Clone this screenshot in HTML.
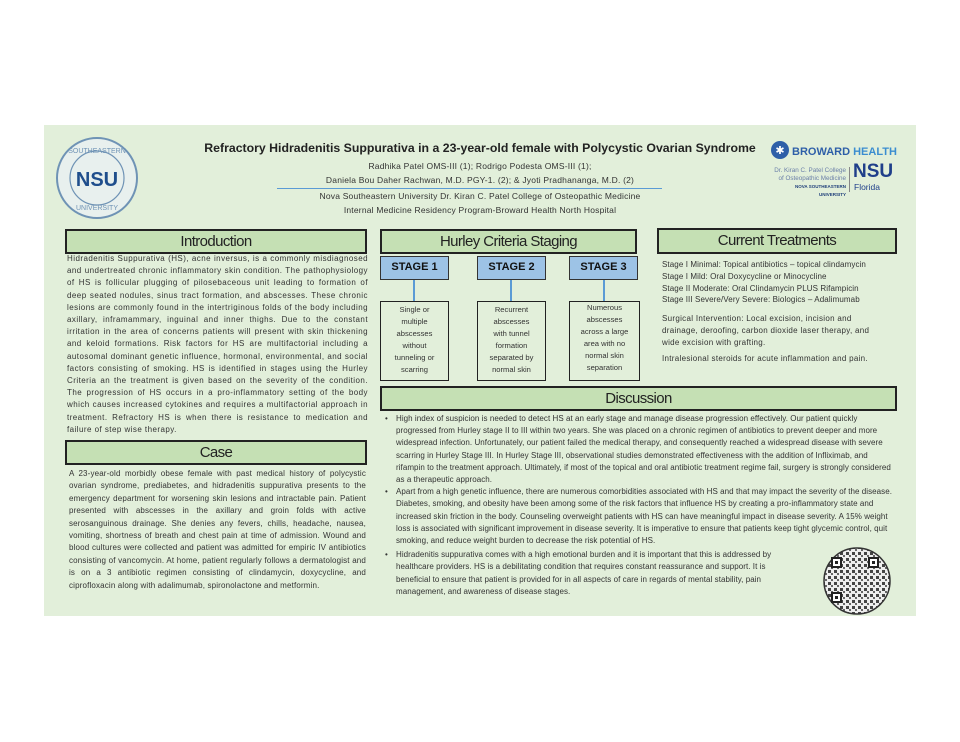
<!DOCTYPE html>
<html><head><meta charset="utf-8"><style>
*{margin:0;padding:0;box-sizing:border-box}
body{width:960px;height:742px;background:#fff;font-family:"Liberation Sans",sans-serif;position:relative;overflow:hidden;color:#333}
.poster{position:absolute;left:44px;top:125px;width:872px;height:491px;background:#e2efda}
.a{position:absolute}
.hdr{position:absolute;background:#c5e0b4;border:2px solid #222;text-align:center;font-size:15px;color:#222;line-height:21px;letter-spacing:-0.6px}
.txt{position:absolute;font-size:8px;letter-spacing:0.3px;line-height:12.1px;color:#333;text-align:justify}
.stage{position:absolute;background:#9dc3e6;border:1.5px solid #333;font-weight:bold;font-size:11px;text-align:center;line-height:20px;color:#111}
.desc{position:absolute;border:1.5px solid #222;font-size:7.6px;line-height:12px;text-align:center;padding-top:2px;color:#333}
.vl{position:absolute;width:2px;background:#5b9bd5}
ul{list-style:none}
li{position:relative;padding-left:11px}
li:before{content:"•";position:absolute;left:0}
</style></head><body>
<div class="poster"></div>
<svg class="a" style="left:55px;top:136px" width="84" height="84">
<circle cx="42" cy="42" r="40" fill="#e8f0ee" stroke="#6f93b5" stroke-width="2"/>
<circle cx="42" cy="42" r="27" fill="none" stroke="#6f93b5" stroke-width="1.2"/>
<text x="42" y="50" text-anchor="middle" font-family="Liberation Sans" font-weight="bold" font-size="20" fill="#1f4e8c">NSU</text>
<text x="42" y="17" text-anchor="middle" font-size="7" fill="#6f93b5">SOUTHEASTERN</text>
<text x="42" y="74" text-anchor="middle" font-size="7" fill="#6f93b5">UNIVERSITY</text>
</svg>
<div class="a" style="left:180px;top:141px;width:600px;text-align:center;font-weight:bold;font-size:12.3px;color:#222">Refractory Hidradenitis Suppurativa in a 23-year-old female with Polycystic Ovarian Syndrome</div>
<div class="a" style="left:220px;top:159px;width:520px;text-align:center;font-size:8.5px;letter-spacing:0.2px;line-height:14px;color:#333">Radhika Patel OMS-III (1); Rodrigo Podesta OMS-III (1);<br>Daniela Bou Daher Rachwan, M.D. PGY-1. (2); &amp; Jyoti Pradhananga, M.D. (2)</div>
<div class="a" style="left:277px;top:188px;width:385px;height:1px;background:#5b9bd5"></div>
<div class="a" style="left:220px;top:190px;width:520px;text-align:center;font-size:8.5px;letter-spacing:0.2px;line-height:13.5px;color:#333">Nova Southeastern University Dr. Kiran C. Patel College of Osteopathic Medicine<br>Internal Medicine Residency Program-Broward Health North Hospital</div>
<svg class="a" style="left:770px;top:140px" width="140" height="20">
<circle cx="10" cy="10" r="9" fill="#2e5fa8"/><text x="10" y="14" text-anchor="middle" font-size="11" fill="#fff">✱</text>
<text x="22" y="15" font-family="Liberation Sans" font-weight="bold" font-size="11" fill="#2e5fa8">BROWARD <tspan fill="#3b8dd0">HEALTH</tspan></text>
</svg>
<div class="a" style="left:770px;top:167px;width:76px;text-align:right;font-size:6.3px;line-height:8px;color:#6a7fa8">Dr. Kiran C. Patel College<br>of Osteopathic Medicine<br><b style="color:#1f3f7a;font-size:4.5px">NOVA SOUTHEASTERN UNIVERSITY</b></div>
<div class="a" style="left:849px;top:167px;width:1px;height:25px;background:#888"></div>
<div class="a" style="left:853px;top:162px;font-weight:bold;font-size:19px;color:#1f3f8a;line-height:20px">NSU</div>
<div class="a" style="left:854px;top:182px;font-size:8.5px;color:#1f3f8a">Florida</div>

<div class="hdr" style="left:65px;top:229px;width:302px;height:25px">Introduction</div>
<div class="txt" style="left:67px;top:253px;width:301px;letter-spacing:0.45px;line-height:12.2px">Hidradenitis Suppurativa (HS), acne inversus, is a commonly misdiagnosed and undertreated chronic inflammatory skin condition. The pathophysiology of HS is follicular plugging of pilosebaceous unit leading to formation of deep seated nodules, sinus tract formation, and abscesses. These chronic lesions are commonly found in the intertriginous folds of the body including axillary, inframammary, inguinal and inner thighs. Due to the constant irritation in the area of concerns patients will present with skin thickening and keloid formations. Risk factors for HS are multifactorial including a autosomal dominant genetic influence, hormonal, environmental, and social factors consisting of smoking. HS is identified in stages using the Hurley Criteria an the treatment is given based on the severity of the condition. The progression of HS occurs in a pro-inflammatory setting of the body which causes increased cytokines and requires a multifactorial approach in treatment. Refractory HS is when there is resistance to medication and failure of step wise therapy.</div>

<div class="hdr" style="left:65px;top:440px;width:302px;height:25px">Case</div>
<div class="txt" style="left:69px;top:468px;width:297px;line-height:12.4px;letter-spacing:0.15px">A 23-year-old morbidly obese female with past medical history of polycystic ovarian syndrome, prediabetes, and hidradenitis suppurativa presents to the emergency department for worsening skin lesions and intractable pain. Patient presented with abscesses in the axillary and groin folds with active serosanguinous drainage. She denies any fevers, chills, headache, nausea, vomiting, shortness of breath and chest pain at time of admission. Wound and blood cultures were collected and patient was admitted for empiric IV antibiotics consisting of vancomycin. At home, patient regularly follows a dermatologist and is on a 3 antibiotic regimen consisting of clindamycin, doxycycline, and ciprofloxacin along with adalimumab, spironolactone and metformin.</div>

<div class="hdr" style="left:380px;top:229px;width:257px;height:25px">Hurley Criteria Staging</div>
<div class="stage" style="left:380px;top:256px;width:69px;height:24px">STAGE 1</div>
<div class="stage" style="left:477px;top:256px;width:69px;height:24px">STAGE 2</div>
<div class="stage" style="left:569px;top:256px;width:69px;height:24px">STAGE 3</div>
<div class="vl" style="left:413px;top:280px;height:21px"></div>
<div class="vl" style="left:510px;top:280px;height:21px"></div>
<div class="vl" style="left:603px;top:280px;height:21px"></div>
<div class="desc" style="left:380px;top:301px;width:69px;height:80px">Single or<br>multiple<br>abscesses<br>without<br>tunneling or<br>scarring</div>
<div class="desc" style="left:477px;top:301px;width:69px;height:80px">Recurrent<br>abscesses<br>with tunnel<br>formation<br>separated by<br>normal skin</div>
<div class="desc" style="left:569px;top:301px;width:71px;height:80px;padding-top:0">Numerous<br>abscesses<br>across a large<br>area with no<br>normal skin<br>separation</div>

<div class="hdr" style="left:657px;top:228px;width:240px;height:26px">Current Treatments</div>
<div class="txt" style="left:662px;top:259px;width:235px;line-height:11.8px;text-align:left;letter-spacing:0.1px">Stage I Minimal: Topical antibiotics – topical clindamycin<br>Stage I Mild: Oral Doxycycline or Minocycline<br>Stage II Moderate: Oral Clindamycin PLUS Rifampicin<br>Stage III Severe/Very Severe: Biologics – Adalimumab</div>
<div class="txt" style="left:662px;top:313px;width:226px;line-height:12px;text-align:left">Surgical Intervention: Local excision, incision and drainage, deroofing, carbon dioxide laser therapy, and wide excision with grafting.</div>
<div class="txt" style="left:662px;top:353px;width:235px;text-align:left">Intralesional steroids for acute inflammation and pain.</div>

<div class="hdr" style="left:380px;top:386px;width:517px;height:25px">Discussion</div>
<div class="txt" style="left:385px;top:413px;width:507px;text-align:left;line-height:12.2px;letter-spacing:0.05px"><ul>
<li>High index of suspicion is needed to detect HS at an early stage and manage disease progression effectively. Our patient quickly progressed from Hurley stage II to III within two years. She was placed on a chronic regimen of antibiotics to prevent deeper and more widespread infection. Unfortunately, our patient failed the medical therapy, and consequently reached a widespread disease with severe scarring in Hurley Stage III. In Hurley Stage III, observational studies demonstrated effectiveness with the addition of Infliximab, and rifampin to the treatment approach. Ultimately, if most of the topical and oral antibiotic treatment regime fail, surgery is strongly considered as a therapeutic approach.</li>
<li>Apart from a high genetic influence, there are numerous comorbidities associated with HS and that may impact the severity of the disease. Diabetes, smoking, and obesity have been among some of the risk factors that influence HS by creating a pro-inflammatory state and increased skin friction in the body. Counseling overweight patients with HS can have meaningful impact in disease severity. A 15% weight loss is associated with significant improvement in disease severity. It is imperative to ensure that patients keep tight glycemic control, quit smoking, and reduce weight burden to decrease the risk potential of HS.</li>
<li style="width:405px;margin-top:2px">Hidradenitis suppurativa comes with a high emotional burden and it is important that this is addressed by healthcare providers. HS is a debilitating condition that requires constant reassurance and support. It is beneficial to ensure that patient is provided for in all aspects of care in regards of mental stability, pain management, and awareness of disease stages.</li>
</ul></div>
<svg class="a" style="left:822px;top:546px" width="70" height="70">
<defs><pattern id="q" width="6" height="6" patternUnits="userSpaceOnUse"><rect width="6" height="6" fill="#eee"/><rect width="3" height="3" fill="#444"/><rect x="3" y="3" width="2" height="2" fill="#666"/></pattern></defs>
<circle cx="35" cy="35" r="33" fill="url(#q)" stroke="#333" stroke-width="1.5"/>
<rect x="10" y="12" width="9" height="9" fill="#fff" stroke="#222" stroke-width="2"/><rect x="13" y="15" width="3" height="3" fill="#222"/>
<rect x="47" y="12" width="9" height="9" fill="#fff" stroke="#222" stroke-width="2"/><rect x="50" y="15" width="3" height="3" fill="#222"/>
<rect x="10" y="47" width="9" height="9" fill="#fff" stroke="#222" stroke-width="2"/><rect x="13" y="50" width="3" height="3" fill="#222"/>
</svg>
</body></html>
